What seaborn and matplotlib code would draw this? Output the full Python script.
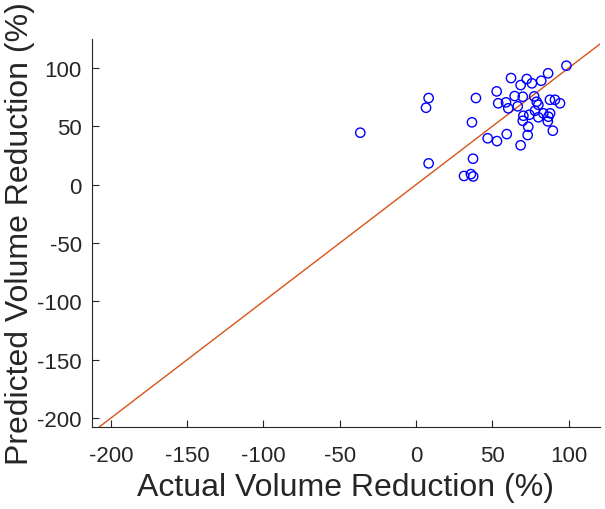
import numpy as np
import pandas as pd
import seaborn as sns
import matplotlib
matplotlib.use('Agg')
import matplotlib.pyplot as plt

# actual vs predicted volume reduction (%)
actual = [-36.5, 8.3, 6.6, 8.3, 39.3, 36.7, 37.4, 31.5, 36.0, 37.5,
          47.0, 53.1, 52.9, 53.9, 59.0, 60.5, 62.3, 64.7, 66.7, 68.6,
          70.0, 72.6, 76.0, 82.1, 86.6, 98.6, 77.5, 79.1, 80.2, 87.8,
          91.1, 94.4, 59.5, 68.6, 73.2, 73.6, 70.0, 70.4, 74.3, 78.0,
          80.2, 83.5, 86.8, 87.9, 86.4, 89.7]
predicted = [44.6, 74.3, 66.0, 18.3, 74.3, 53.5, 22.3, 7.5, 9.1, 7.1,
             39.8, 37.4, 80.0, 69.8, 70.6, 65.5, 91.4, 76.0, 67.2, 85.4,
             75.4, 90.6, 86.9, 89.1, 95.5, 102.0, 75.7, 71.1, 68.5, 72.8,
             72.8, 69.8, 43.4, 33.8, 42.6, 49.7, 54.8, 59.1, 60.0, 63.4,
             57.8, 61.2, 58.3, 61.2, 54.3, 46.3]
xlim = (-212.5, 120.6)
ylim = (-207.6, 124.9)
ticks = [-200, -150, -100, -50, 0, 50, 100]

df = pd.DataFrame({'actual': actual, 'predicted': predicted})

sns.set_style('white')
plt.rcParams['font.family'] = ['Liberation Sans', 'DejaVu Sans']
plt.rcParams['axes.unicode_minus'] = False

fig = plt.figure(figsize=(6.05, 5.10), dpi=100)
ax = fig.add_axes([0.1516, 0.1608, 0.9917 - 0.1516, 0.9216 - 0.1608])

# identity line
lim = [min(xlim[0], ylim[0]), max(xlim[1], ylim[1])]
ax.plot(lim, lim, color='#D95319', linewidth=1.0, zorder=1)

sns.scatterplot(data=df, x='actual', y='predicted', ax=ax, marker='o',
                facecolor='none', edgecolor='blue', linewidth=1.0, s=45, zorder=2)

ax.set_xlim(xlim)
ax.set_ylim(ylim)
ax.set_xticks(ticks)
ax.set_yticks(ticks)
ax.tick_params(bottom=True, left=True, top=False, right=False,
               direction='in', length=5, width=0.8, labelsize=16,
               colors='#262626')
ax.tick_params(axis='x', pad=13)
ax.tick_params(axis='y', pad=7)
for side in ['top', 'right']:
    ax.spines[side].set_visible(False)
for side in ['left', 'bottom']:
    ax.spines[side].set_color('#262626')
    ax.spines[side].set_linewidth(0.8)

ax.set_xlabel('Actual Volume Reduction (%)', fontsize=23, color='#262626', labelpad=4)
ax.set_ylabel('Predicted Volume Reduction (%)', fontsize=23, color='#262626', labelpad=2)

plt.savefig('out.png', dpi=100)
